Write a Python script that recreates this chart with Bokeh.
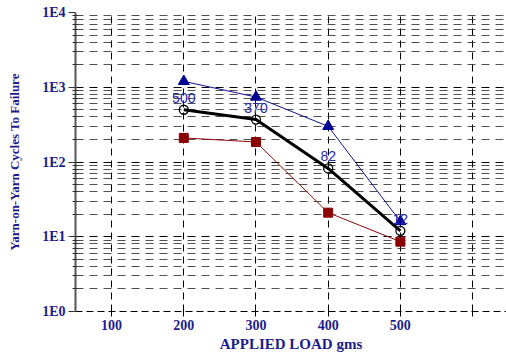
from bokeh.plotting import figure
from bokeh.models import FixedTicker, Range1d, ColumnDataSource
from bokeh.embed import file_html
from bokeh.resources import INLINE
from bokeh.core.properties import value

loads = [200, 300, 400, 500]
blue_vals = [1200, 740, 300, 16]
black_vals = [500, 370, 82, 12]
red_vals = [210, 185, 21, 8.6]
black_labels = ["500", "370", "82", "12"]

x_ticks = [100, 200, 300, 400, 500, 600]
x_tick_labels = {100: "100", 200: "200", 300: "300", 400: "400", 500: "500", 600: ""}
y_major = [1, 10, 100, 1000, 10000]
y_tick_labels = {1: "1E0", 10: "1E1", 100: "1E2", 1000: "1E3", 10000: "1E4"}

navy = "#1c1c8c"
serif = "Liberation Serif"

p = figure(width=506, height=356, y_axis_type="log", output_backend="svg",
           toolbar_location=None, x_range=Range1d(50, 647), y_range=Range1d(1, 10000),
           min_border_left=75, min_border_top=12, min_border_bottom=45, min_border_right=0)
p.outline_line_color = None
p.background_fill_color = "white"

minor = [m * d for d in y_major[:-1] for m in range(2, 10)]
p.yaxis.ticker = FixedTicker(ticks=y_major, minor_ticks=minor)
p.xaxis.ticker = FixedTicker(ticks=x_ticks)
p.yaxis.major_label_overrides = y_tick_labels
p.xaxis.major_label_overrides = x_tick_labels

for ax in (p.xaxis, p.yaxis):
    ax.major_label_text_font = serif
    ax.major_label_text_font_style = "bold"
    ax.major_label_text_font_size = "14px"
    ax.major_label_text_color = navy
    ax.axis_label_text_font = serif
    ax.axis_label_text_font_style = "bold"
    ax.axis_label_text_color = navy

p.xaxis.axis_label_text_font_size = "15px"
p.yaxis.axis_label_text_font_size = "13px"

p.yaxis.axis_label = "Yarn-on-Yarn Cycles To Failure"
p.xaxis.axis_label = "APPLIED LOAD gms"
p.yaxis.axis_line_color = "#555555"
p.yaxis.axis_line_width = 2
p.yaxis.major_tick_out = 7
p.yaxis.major_tick_in = 0
p.yaxis.minor_tick_out = 3
p.yaxis.minor_tick_in = 3
p.yaxis.major_tick_line_color = "#333333"
p.yaxis.minor_tick_line_color = "#333333"
p.yaxis.major_label_standoff = 3
p.yaxis.axis_label_standoff = 17

p.xaxis.axis_line_color = "black"
p.xaxis.axis_line_dash = "7 4"
p.xaxis.major_tick_out = 5
p.xaxis.major_tick_in = 5
p.xaxis.minor_tick_line_color = None
p.xaxis.major_label_standoff = 3
p.xaxis.axis_label_standoff = 3

p.xgrid.grid_line_color = "black"
p.xgrid.grid_line_dash = "7 5"
p.xgrid.grid_line_width = 1
p.ygrid.grid_line_color = "black"
p.ygrid.grid_line_dash = "8 6"
p.ygrid.minor_grid_line_color = "#333333"
p.ygrid.minor_grid_line_dash = "8 6"
p.ygrid.minor_grid_line_alpha = 0.85

src = ColumnDataSource(dict(x=loads, blue=blue_vals, black=black_vals, red=red_vals, lab=black_labels))

p.line("x", "blue", source=src, line_color="#101090", line_width=1)
p.scatter("x", "blue", source=src, marker="triangle", size=11, fill_color="#000090", line_color="#000090")
p.line("x", "red", source=src, line_color="#8b0a0a", line_width=1)
p.scatter("x", "red", source=src, marker="square", size=9, fill_color="#8b0000", line_color="#8b0000")
p.line("x", "black", source=src, line_color="black", line_width=3)
p.scatter("x", "black", source=src, marker="circle", size=9, fill_color=None, line_color="black", line_width=1.3)
p.text("x", "black", text="lab", source=src, text_align="center", text_baseline="middle",
       y_offset=-12, text_font=value("Liberation Sans"), text_font_size="14px", text_color="#2828b0")

open("out.html", "w").write(file_html(p, INLINE))
